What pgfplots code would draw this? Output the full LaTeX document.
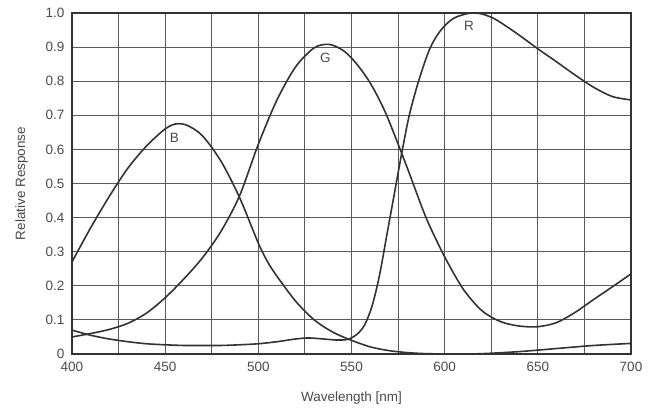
\documentclass[border=0pt]{standalone}
\usepackage{fontspec}
\setmainfont{Liberation Sans}
\usepackage{pgfplots}
\pgfplotsset{compat=1.18}
\definecolor{txtgray}{HTML}{4A4A4A}
\definecolor{gridgray}{HTML}{5A5A5A}
\definecolor{curve}{HTML}{333333}
\tikzset{resp/.style={draw=curve, line width=1.6pt, mark=none, smooth, tension=0.5}}

\begin{document}
\begin{tikzpicture}
\begin{axis}[
  scale only axis,
  width=559pt, height=341pt,
  xmin=400, xmax=700, ymin=0, ymax=1,
  xtick={400,450,500,550,600,650,700},
  minor xtick={425,475,525,575,625,675},
  ytick={0,0.1,0.2,0.3,0.4,0.5,0.6,0.7,0.8,0.9,1.0},
  yticklabels={0,0.1,0.2,0.3,0.4,0.5,0.6,0.7,0.8,0.9,1.0},
  xticklabels={400,450,500,550,600,650,700},
  grid=both,
  major grid style={gridgray, line width=0.9pt},
  minor grid style={gridgray, line width=0.9pt},
  major tick length=0pt, minor tick length=0pt,
  axis line style={curve, line width=1.8pt},
  tick label style={font=\fontsize{13.5}{15}\selectfont, text=txtgray},
  xticklabel style={yshift=-5pt},
  yticklabel style={xshift=-4pt},
  xlabel={Wavelength [nm]},
  ylabel={Relative Response},
  label style={font=\fontsize{13.5}{15}\selectfont, text=txtgray},
  xlabel style={yshift=-13pt},
  ylabel style={yshift=11pt},
]
% B
\addplot[resp] coordinates {
 (400,0.27) (410,0.37) (420,0.462) (430,0.545) (440,0.61) (450,0.66)
 (456,0.675) (462,0.67) (470,0.64) (480,0.565) (490,0.458) (500,0.325)
 (505,0.27) (510,0.228) (520,0.155) (530,0.10) (540,0.064) (550,0.04)
 (560,0.021) (570,0.01) (580,0.004) (590,0.001) (605,0.0) (620,0.001)
 (640,0.007) (660,0.016) (680,0.025) (700,0.031)
};
% G
\addplot[resp] coordinates {
 (400,0.05) (410,0.06) (420,0.072) (430,0.09) (440,0.12) (450,0.165)
 (460,0.22) (470,0.282) (480,0.36) (490,0.465) (500,0.615) (510,0.745)
 (520,0.842) (530,0.898) (538,0.908) (545,0.892) (550,0.868) (555,0.835)
 (560,0.795) (565,0.745) (570,0.685) (580,0.545) (590,0.40) (600,0.285)
 (610,0.19) (620,0.127) (630,0.095) (640,0.082) (650,0.08) (660,0.092)
 (670,0.122) (680,0.16) (690,0.197) (700,0.235)
};
% R
\addplot[resp] coordinates {
 (400,0.07) (410,0.055) (420,0.044) (430,0.036) (440,0.03) (450,0.027)
 (460,0.025) (470,0.025) (480,0.025) (490,0.027) (500,0.03) (510,0.036)
 (520,0.044) (527,0.047) (535,0.044) (542,0.041) (548,0.043) (553,0.058)
 (557,0.085) (561,0.14) (565,0.23) (569,0.35) (573,0.47) (577,0.59)
 (581,0.70) (586,0.80) (592,0.895) (598,0.95) (605,0.985) (614,1.0)
 (620,0.997) (626,0.985) (632,0.965) (640,0.935) (650,0.895) (660,0.857)
 (670,0.818) (680,0.782) (690,0.755) (700,0.745)
};
\node[text=txtgray, font=\fontsize{13.5}{15}\selectfont] at (axis cs:455,0.633) {B};
\node[text=txtgray, font=\fontsize{13.5}{15}\selectfont] at (axis cs:536,0.868) {G};
\node[text=txtgray, font=\fontsize{13.5}{15}\selectfont] at (axis cs:613,0.961) {R};
\end{axis}
\path ([shift={(-72pt,-57pt)}]current axis.south west) rectangle ([shift={(28pt,13pt)}]current axis.north east);
\end{tikzpicture}
\end{document}
